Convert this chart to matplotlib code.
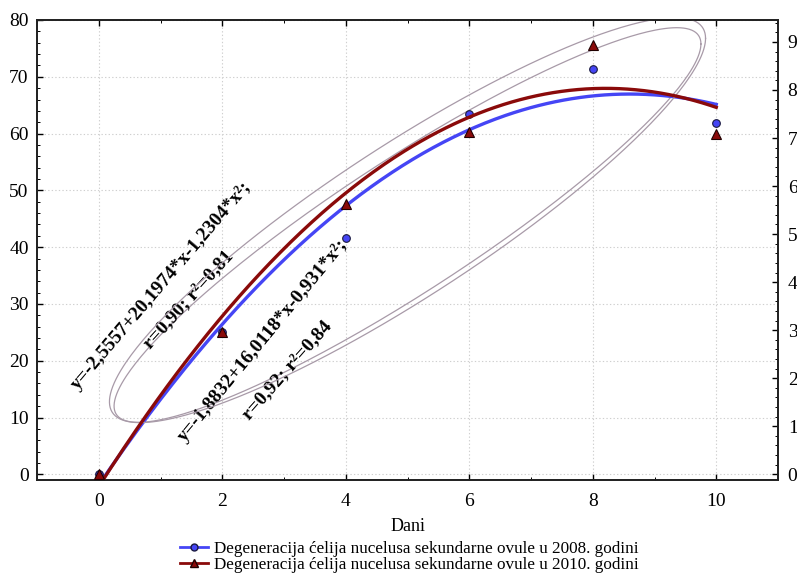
import numpy as np
import matplotlib
matplotlib.use("Agg")
import matplotlib.pyplot as plt
from matplotlib.lines import Line2D

# ---- data ----
days = [0, 2, 4, 6, 8, 10]
y2008 = [0.0, 25.1, 41.7, 63.4, 71.4, 61.8]      # left axis
y2010 = [0.0, 29.7, 56.3, 71.2, 89.4, 70.9]      # right axis
coef2008 = [-1.8832, 16.0118, -0.931]            # a + b*x + c*x^2
coef2010 = [-2.5557, 20.1974, -1.2304]
xticks = [0, 2, 4, 6, 8, 10]
yticks_left = [0, 10, 20, 30, 40, 50, 60, 70, 80]
yticks_right = [0, 10, 20, 30, 40, 50, 60, 70, 80, 90]
label2008 = "Degeneracija ćelija nucelusa sekundarne ovule u 2008. godini"
label2010 = "Degeneracija ćelija nucelusa sekundarne ovule u 2010. godini"
eq2008 = "y=-1,8832+16,0118*x-0,931*x²;"
r2008 = "r=0,92; r²=0,84"
eq2010 = "y=-2,5557+20,1974*x-1,2304*x²;"
r2010 = "r=0,90; r²=0,81"

plt.rcParams['font.family'] = ['Liberation Serif', 'DejaVu Serif']

BLUE = '#4545f5'
RED = '#8a0a0a'
ELL = '#a89aa8'

fig = plt.figure(figsize=(7.97, 5.80), dpi=100)
ax = fig.add_axes([37/797, 1-480/580, (778-37)/797, (480-20)/580])
ax2 = ax.twinx()

ax.set_xlim(-1, 11)
ax.set_ylim(-1, 80)
k = 1.182
ax2.set_ylim(-1*k, 80*k)

def ellipse(axis, x, y, scale, color):
    x = np.asarray(x, float); y = np.asarray(y, float)
    cov = np.cov(x, y)
    L = np.linalg.cholesky(cov)
    t = np.linspace(0, 2*np.pi, 400)
    pts = L @ np.vstack([np.cos(t), np.sin(t)]) * scale
    axis.plot(x.mean() + pts[0], y.mean() + pts[1], color=color, lw=0.9, zorder=1)

ellipse(ax, days, y2008, 1.27, ELL)
ellipse(ax2, days, y2010, 1.29, ELL)

xs = np.linspace(0, 10, 300)
ax.plot(xs, np.polyval(coef2008[::-1], xs), color=BLUE, lw=2.4, zorder=3)
ax2.plot(xs, np.polyval(coef2010[::-1], xs), color=RED, lw=2.4, zorder=3)

ax.plot(days, y2008, 'o', ms=5.5, mfc=BLUE, mec='#1a1a40', mew=0.8, zorder=4)
ax2.plot(days, y2010, '^', ms=6.5, mfc=RED, mec='#200000', mew=0.8, zorder=4)

# axes styling
ax.set_xticks(xticks)
ax.set_yticks(yticks_left)
ax2.set_yticks(yticks_right)
ax.set_xticks(np.arange(-1, 12, 1), minor=True)
ax.set_yticks(np.arange(0, 81, 2), minor=True)
ax2.set_yticks(np.arange(0, 95, 2), minor=True)
ax.grid(True, which='major', color='#cfcfcf', ls=(0, (1.2, 2)), lw=0.8)
ax.set_axisbelow(True)
ax.tick_params(axis='both', which='both', direction='in', labelsize=14,
               top=True, right=False)
ax.tick_params(which='major', length=4, width=1)
ax.tick_params(which='minor', length=2, width=0.7)
ax2.tick_params(axis='y', which='both', direction='in', labelsize=14, pad=7)
ax2.tick_params(which='major', length=4, width=1)
ax2.tick_params(which='minor', length=2, width=0.7)
ax.tick_params(axis='x', pad=9)
ax.tick_params(axis='y', pad=6)
for a in (ax, ax2):
    for s in a.spines.values():
        s.set_linewidth(1.3)
        s.set_color('#222222')

ax.set_xlabel("Dani", fontsize=13, labelpad=6)

# equations
tkw = dict(fontsize=14, fontweight='bold', ha='center', va='center',
           rotation_mode='anchor', zorder=5)
ax.text(1.02, 33.3, eq2010, rotation=49.5, **tkw)
ax.text(1.45, 30.7, r2010, rotation=48, **tkw)
ax.text(2.65, 23.6, eq2008, rotation=50.5, **tkw)
ax.text(3.05, 18.3, r2008, rotation=48.5, **tkw)

handles = [Line2D([], [], color=BLUE, lw=2, marker='o', ms=5, mfc=BLUE, mec='#1a1a40'),
           Line2D([], [], color=RED, lw=2, marker='^', ms=6, mfc=RED, mec='#200000')]
fig.legend(handles, [label2008, label2010], loc='center', bbox_to_anchor=(0.514, 0.04),
           frameon=False, fontsize=12.3, handlelength=1.6, labelspacing=0.0,
           handletextpad=0.4, borderpad=0)

fig.savefig("out.png", dpi=100)
